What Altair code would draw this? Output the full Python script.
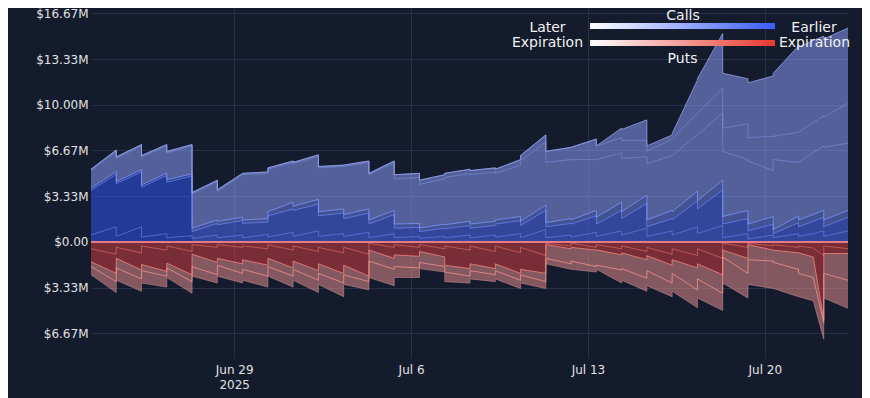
import altair as alt
import pandas as pd

# ---- time grid: each day has a post-expiry (08:00) point and a pre-expiry (07:59 next day) point
DAYS = pd.date_range("2025-06-23", "2025-07-22", freq="D")
EXTRA_TIMES = {"2025-07-21": "22:00"}
FIRST_EXPIRY = "2025-06-27T08:00"

# ---- values in $M, one tuple per day: (08:00 value, [extra], next-day 07:59 value)
CALL_TOP = [(5.3, 6.7), (6.2, 7.1), (6.3, 7.1), (6.6, 7.1), (3.6, 4.5), (3.8, 5.0), (5.0, 5.1), (5.4, 5.9),
            (5.8, 6.35), (5.5, 5.6), (5.6, 5.9), (5.0, 5.9), (4.9, 5.0), (4.5, 4.9), (5.0, 5.3), (5.2, 5.4),
            (5.3, 6.0), (6.3, 7.8), (6.6, 6.9), (6.9, 7.5), (7.0, 8.3), (8.2, 8.9), (7.0, 7.8), (7.9, 11.8),
            (11.9, 15.2), (12.3, 11.9), (11.6, 12.1), (12.3, 14.3), (14.2, 14.7, 15.0), (14.8, 15.6)]
CALL_U2 = [(5.3, 6.7), (6.2, 7.1), (6.3, 7.1), (6.6, 7.1), (3.6, 4.5), (3.8, 5.0), (5.0, 5.1), (5.4, 5.9),
           (5.8, 6.35), (5.5, 5.6), (5.6, 5.9), (5.0, 5.9), (4.9, 5.0), (4.5, 4.9), (5.0, 5.3), (5.2, 5.4),
           (5.3, 6.0), (6.3, 7.8), (6.6, 6.9), (6.9, 7.5), (7.0, 7.6), (7.4, 7.4), (6.6, 7.5), (7.5, 9.4),
           (9.4, 11.2), (8.3, 8.6), (7.6, 7.7), (7.7, 8.0), (8.0, 8.7, 9.2), (9.1, 10.1)]
CALL_U1 = [(5.2, 6.6), (6.1, 7.0), (6.2, 7.0), (6.5, 7.0), (3.5, 4.4), (3.7, 4.9), (4.9, 5.0), (5.3, 5.8),
           (5.7, 6.25), (5.4, 5.5), (5.5, 5.8), (4.9, 5.8), (4.6, 4.7), (4.2, 4.6), (4.7, 5.0), (4.9, 5.1),
           (5.0, 5.6), (5.9, 7.3), (5.8, 6.0), (6.0, 6.0), (6.0, 6.5), (6.1, 6.2), (5.7, 6.3), (6.3, 7.8),
           (7.8, 9.4), (6.6, 6.0), (5.9, 5.2), (6.0, 5.8), (5.8, 6.5, 7.0), (6.9, 7.2)]
CALL_C = [(3.92, 5.13), (4.4, 5.26), (4.16, 5.01), (4.53, 4.96), (1.0, 1.6), (1.5, 1.8), (1.6, 1.7), (2.2, 2.9),
          (2.6, 3.1), (2.2, 2.4), (2.0, 2.4), (1.6, 2.3), (1.3, 1.35), (1.0, 1.3), (1.25, 1.5), (1.3, 1.5),
          (1.6, 1.85), (1.5, 2.7), (1.4, 1.7), (1.6, 2.3), (1.8, 2.9), (2.2, 3.4), (1.6, 2.3), (2.2, 3.7),
          (3.0, 4.5), (1.85, 2.3), (1.3, 1.85), (0.9, 1.9), (1.6, 2.0, 2.3), (1.6, 2.3)]
CALL_B = [(3.75, 4.95), (4.25, 5.1), (4.0, 4.85), (4.35, 4.8), (0.75, 1.35), (1.25, 1.55), (1.35, 1.45), (1.9, 2.4),
          (2.3, 2.75), (1.9, 2.1), (1.7, 2.1), (1.3, 2.0), (1.0, 1.05), (0.75, 1.0), (0.95, 1.2), (1.0, 1.2),
          (1.3, 1.55), (1.2, 2.3), (1.1, 1.35), (1.3, 1.9), (1.3, 2.3), (1.7, 2.8), (1.1, 1.7), (1.6, 3.0),
          (2.4, 3.8), (1.3, 1.7), (0.8, 1.3), (0.6, 1.4), (1.1, 1.5, 1.8), (1.1, 1.8)]
CALL_A = [(0.5, 1.1), (0.4, 1.1), (0.35, 0.6), (0.3, 0.45), (0.25, 0.5), (0.3, 0.5), (0.3, 0.55), (0.35, 0.7),
          (0.4, 0.8), (0.4, 0.6), (0.4, 0.7), (0.3, 0.6), (0.3, 0.4), (0.25, 0.4), (0.3, 0.5), (0.3, 0.5),
          (0.35, 0.6), (0.3, 0.9), (0.3, 0.5), (0.35, 0.7), (0.4, 0.8), (0.5, 1.0), (0.4, 0.8), (0.5, 1.1),
          (0.6, 1.2), (0.3, 0.6), (0.2, 0.5), (0.3, 0.6), (0.4, 0.6, 0.8), (0.4, 0.8)]

# puts: magnitudes in $M (drawn below zero)
PUT_A = [(0.5, 0.9), (0.4, 0.8), (0.3, 0.6), (0.3, 0.7), (0.2, 0.4), (0.2, 0.4), (0.3, 0.5), (0.2, 0.6),
         (0.3, 0.7), (0.4, 0.8), (0.4, 0.9), (0.1, 0.4), (0.2, 0.4), (0.2, 0.5), (0.3, 0.6), (0.3, 0.7),
         (0.3, 0.8), (0.4, 1.0), (0.1, 0.3), (0.1, 0.4), (0.2, 0.5), (0.3, 0.7), (0.4, 0.9), (0.5, 1.0),
         (0.5, 1.2), (0.1, 0.4), (0.1, 0.3), (0.2, 0.4), (0.3, 0.45, 1.0), (0.3, 0.5)]
PUT_B = [(1.45, 2.3), (1.2, 2.05), (1.65, 2.15), (1.55, 2.4), (0.9, 1.5), (1.2, 1.6), (1.3, 1.7), (1.2, 1.9),
         (1.4, 2.1), (1.6, 2.3), (1.7, 2.5), (0.6, 1.2), (0.95, 1.05), (0.7, 1.1), (1.7, 1.95), (1.6, 1.95),
         (1.6, 2.3), (2.0, 2.3), (0.2, 0.5), (0.4, 0.6), (0.58, 0.95), (0.8, 1.3), (1.0, 1.7), (1.3, 1.9),
         (1.6, 2.4), (0.6, 1.2), (0.2, 0.6), (0.6, 0.8), (0.8, 1.1, 5.7), (0.85, 0.85)]
PUT_C = [(1.8, 2.9), (1.9, 2.7), (2.1, 2.5), (1.9, 2.9), (1.8, 2.4), (1.7, 2.3), (2.0, 2.5), (1.8, 2.5),
         (2.0, 2.8), (2.3, 3.0), (2.4, 2.9), (1.4, 2.0), (1.8, 1.9), (1.5, 1.8), (2.2, 2.5), (2.1, 2.4),
         (2.1, 2.8), (2.4, 2.9), (1.2, 1.6), (1.4, 1.8), (1.7, 2.05), (1.95, 2.65), (2.1, 3.0), (2.3, 3.5),
         (2.7, 3.75), (1.1, 2.3), (1.3, 1.4), (1.5, 2.0), (2.3, 2.6, 5.9), (2.3, 2.8)]
PUT_BOT = [(2.4, 3.7), (2.8, 3.6), (3.0, 3.3), (2.6, 3.75), (2.5, 3.0), (2.5, 3.0), (2.8, 3.3), (2.5, 3.3),
           (2.8, 3.7), (3.1, 4.0), (3.1, 3.5), (2.6, 3.2), (2.6, 2.6), (1.95, 2.2), (2.9, 3.0), (2.7, 2.9),
           (2.7, 3.4), (3.0, 3.4), (1.6, 2.0), (2.0, 2.2), (2.0, 3.0), (2.8, 3.6), (3.2, 4.0), (3.6, 4.8),
           (4.1, 5.0), (3.0, 4.1), (3.1, 3.4), (3.4, 4.0), (4.0, 4.3, 7.1), (4.1, 4.85)]

Y_TICKS = [-20 / 3, -10 / 3, 0, 10 / 3, 20 / 3, 10, 40 / 3, 50 / 3]


def build_times():
    out = []
    for i, d in enumerate(DAYS):
        ds = d.strftime("%Y-%m-%d")
        out.append(f"{ds}T08:00")
        if ds in EXTRA_TIMES:
            out.append(f"{ds}T{EXTRA_TIMES[ds]}")
        nd = (d + pd.Timedelta(days=1)).strftime("%Y-%m-%d")
        out.append(f"{nd}T07:00" if i == len(DAYS) - 1 else f"{nd}T07:59")
    return out


def flat(lst, sign=1):
    return [sign * v for tup in lst for v in tup]


T = build_times()
N = len(T)
ZERO = [0.0] * N

cA, cB, cC = flat(CALL_A), flat(CALL_B), flat(CALL_C)
cD, cE, cTop = flat(CALL_U1), flat(CALL_U2), flat(CALL_TOP)
pA, pB, pC, pBot = flat(PUT_A, -1), flat(PUT_B, -1), flat(PUT_C, -1), flat(PUT_BOT, -1)

BLUE_DEEP, BLUE_MID, BLUE_LIGHT, LAVENDER = "#3050e0", "#4a64e4", "#6a80ea", "#8b99f5"
RED_DEEP, SALMON = "#e04040", "#e08b8d"

# (name, lower, upper, fill before first expiry, fill after, opacity)
layers = [
    ("c0", ZERO, cA, BLUE_DEEP, BLUE_MID, 0.6),
    ("c1", cA, cB, BLUE_DEEP, BLUE_MID, 0.6),
    ("c2", cB, cC, BLUE_MID, BLUE_LIGHT, 0.55),
    ("c3", cC, cD, LAVENDER, LAVENDER, 0.55),
    ("c4", cD, cE, LAVENDER, LAVENDER, 0.55),
    ("c5", cE, cTop, LAVENDER, LAVENDER, 0.55),
    ("p0", ZERO, pA, RED_DEEP, RED_DEEP, 0.5),
    ("p1", pA, pB, RED_DEEP, RED_DEEP, 0.5),
    ("p2", pB, pC, SALMON, SALMON, 0.55),
    ("p3", pC, pBot, SALMON, SALMON, 0.55),
]
rows = []
for name, lo, hi, f_early, f_late, op in layers:
    for t, a, b in zip(T, lo, hi):
        fill = f_early if t < FIRST_EXPIRY else f_late
        rows.append({"t": t, "lo": a, "hi": b, "layer": name, "fill": fill, "op": op})
area_df = pd.DataFrame(rows)

bounds = [
    ("cA", cA, "#6f8bff", 0.6), ("cB", cB, "#6f8bff", 0.7), ("cC", cC, "#7c97ff", 0.8),
    ("cD", cD, "#8c9ff5", 0.5), ("cE", cE, "#8c9ff5", 0.5), ("cTop", cTop, "#98a6ee", 0.75),
    ("pA", pA, "#ff7b70", 0.55), ("pB", pB, "#ff8a80", 0.75), ("pC", pC, "#ff9a90", 0.75),
    ("pBot", pBot, "#d8969a", 0.5),
]
lrows = []
for name, vals, col, op in bounds:
    for t, v in zip(T, vals):
        lrows.append({"t": t, "v": v, "b": name, "stroke": col, "op": op})
line_df = pd.DataFrame(lrows)

x_scale = alt.Scale(domain=[alt.DateTime(year=2025, month=6, date=23, hours=8),
                            alt.DateTime(year=2025, month=7, date=23, hours=7)], nice=False)
y_scale = alt.Scale(domain=[-8.47, 17.06], nice=False, zero=False)

x_axis = alt.Axis(
    values=[alt.DateTime(year=2025, month=6, date=29), alt.DateTime(year=2025, month=7, date=6),
            alt.DateTime(year=2025, month=7, date=13), alt.DateTime(year=2025, month=7, date=20)],
    labelExpr="date(datum.value) == 29 ? [timeFormat(datum.value, '%b %-d'), '2025'] : timeFormat(datum.value, '%b %-d')",
    labelLineHeight=15, labelPadding=6, labelFlush=False, title=None, grid=True,
)
y_axis = alt.Axis(
    values=Y_TICKS,
    labelExpr="abs(datum.value) < 0.001 ? '$0.00' : '$' + format(abs(datum.value), '.2f') + 'M'",
    labelPadding=3, title=None, grid=True,
)

areas = alt.Chart(area_df).mark_area(interpolate="linear", strokeWidth=0).encode(
    x=alt.X("t:T", scale=x_scale, axis=x_axis),
    y=alt.Y("hi:Q", scale=y_scale, axis=y_axis, stack=None),
    y2="lo:Q",
    color=alt.Color("fill:N", scale=None),
    fillOpacity=alt.FillOpacity("op:Q", scale=None),
    detail="layer:N",
)

lines = alt.Chart(line_df).mark_line(strokeWidth=1, interpolate="linear").encode(
    x=alt.X("t:T", scale=x_scale),
    y=alt.Y("v:Q", scale=y_scale),
    color=alt.Color("stroke:N", scale=None),
    opacity=alt.Opacity("op:Q", scale=None),
    detail="b:N",
)

zero_rule = alt.Chart(pd.DataFrame({"y": [0]})).mark_rule(color="#e47c88", strokeWidth=2).encode(
    y=alt.Y("y:Q", scale=y_scale)
)

one = pd.DataFrame({"a": [0]})
blue_grad = alt.LinearGradient(gradient="linear", x1=0, x2=1, y1=0, y2=0,
                               stops=[alt.GradientStop(color="#ffffff", offset=0),
                                      alt.GradientStop(color="#3a5cf8", offset=1)])
red_grad = alt.LinearGradient(gradient="linear", x1=0, x2=1, y1=0, y2=0,
                              stops=[alt.GradientStop(color="#ffffff", offset=0),
                                     alt.GradientStop(color="#e8382e", offset=1)])
bar_blue = alt.Chart(one).mark_rect(color=blue_grad).encode(
    x=alt.value(499), x2=alt.value(684), y=alt.value(15), y2=alt.value(21))
bar_red = alt.Chart(one).mark_rect(color=red_grad).encode(
    x=alt.value(499), x2=alt.value(684), y=alt.value(32), y2=alt.value(38))

LEGEND_TEXTS = [("Calls", 592, 8), ("Later", 456.5, 19.5), ("Expiration", 456.5, 35),
                ("Earlier", 723, 20), ("Expiration", 723.5, 34.5), ("Puts", 591.5, 51)]
texts = [
    alt.Chart(one).mark_text(font="DejaVu Sans", fontSize=14, color="#f2f2f2",
                             align="center", baseline="middle").encode(
        x=alt.value(x), y=alt.value(y), text=alt.value(s))
    for s, x, y in LEGEND_TEXTS
]

chart = alt.layer(areas, lines, zero_rule, bar_blue, bar_red, *texts).properties(
    width=757, height=350,
    autosize=alt.AutoSizeParams(type="none"),
    padding={"left": 83, "top": 0, "right": 14, "bottom": 40},
).configure(background="#131b2c").configure_view(stroke=None).configure_axis(
    gridColor="#263149", gridWidth=1, domain=False, ticks=False,
    labelColor="#e2e2e2", labelFont="DejaVu Sans", labelFontSize=12,
)

chart.save("out.html", embed_options={"renderer": "svg", "actions": False})
